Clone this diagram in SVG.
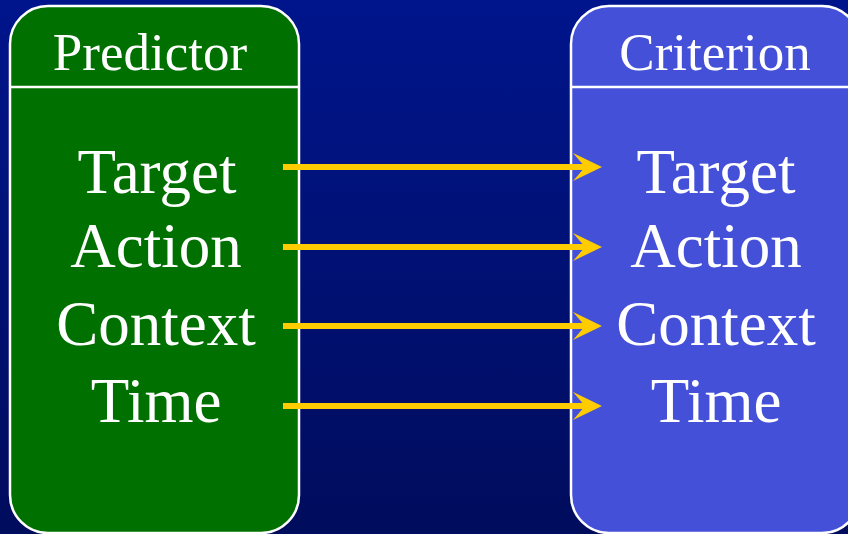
<svg xmlns="http://www.w3.org/2000/svg" width="848" height="534" viewBox="0 0 848 534">
<defs>
<linearGradient id="bg" x1="0" y1="0" x2="0" y2="1">
<stop offset="0" stop-color="#00158C"/>
<stop offset="1" stop-color="#000C5C"/>
</linearGradient>
<marker id="ah" markerUnits="userSpaceOnUse" markerWidth="32" markerHeight="32" viewBox="0 0 32 32" refX="12" refY="16" orient="auto">
<path d="M0,2 L29,16 L0,30 L12,16 Z" fill="#FFCC00"/>
</marker>
<style>
.box{stroke:#FFFFFF;stroke-width:2.5}
.hdr{stroke:#FFFFFF;stroke-width:2.5}
.t{font-family:"Liberation Serif","Times New Roman",serif;fill:#FFFFFF;text-anchor:middle}
.h{font-size:53px}
.b{font-size:63px}
.c{stroke:#FFCC00;stroke-width:6;fill:none}
</style>
</defs>
<rect width="848" height="534" fill="url(#bg)"/>
<g id="predictor">
<rect class="box" x="10" y="6" width="289" height="527" rx="38" ry="38" fill="#007000"/>
<line class="hdr" x1="10" y1="87" x2="299" y2="87"/>
<text class="t h" x="150" y="70">Predictor</text>
<text class="t b" x="157" y="193">Target</text>
<text class="t b" x="156" y="267">Action</text>
<text class="t b" x="156" y="345">Context</text>
<text class="t b" x="156" y="422">Time</text>
</g>
<g id="criterion">
<rect class="box" x="571" y="6" width="289" height="527" rx="38" ry="38" fill="#4450D8"/>
<line class="hdr" x1="571" y1="87" x2="848" y2="87"/>
<text class="t h" x="715" y="70">Criterion</text>
<text class="t b" x="716" y="193">Target</text>
<text class="t b" x="716" y="267">Action</text>
<text class="t b" x="716" y="345">Context</text>
<text class="t b" x="716" y="422">Time</text>
</g>
<g id="connectors">
<line class="c" x1="283" y1="167" x2="585" y2="167" marker-end="url(#ah)"/>
<line class="c" x1="283" y1="247" x2="585" y2="247" marker-end="url(#ah)"/>
<line class="c" x1="283" y1="326" x2="585" y2="326" marker-end="url(#ah)"/>
<line class="c" x1="283" y1="406" x2="585" y2="406" marker-end="url(#ah)"/>
</g>
</svg>
